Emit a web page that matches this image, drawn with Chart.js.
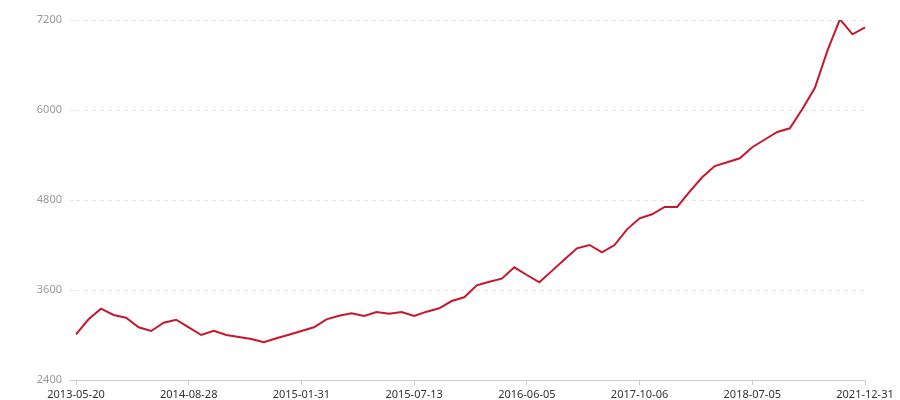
<!DOCTYPE html>
<html>
<head>
<meta charset="utf-8">
<script src="https://cdn.jsdelivr.net/npm/chart.js@4/dist/chart.umd.min.js"></script>
<style>
  html, body { margin: 0; padding: 0; background: #fff; }
  #wrap { width: 900px; height: 400px; }
</style>
</head>
<body>
<div id="wrap"><canvas id="c"></canvas></div>
<script>
const dates = [
  '2013-05-20','2013-07-10','2013-08-30','2013-10-18','2013-12-09','2014-01-28','2014-03-20','2014-05-12','2014-07-03',
  '2014-08-28','2014-09-15','2014-10-03','2014-10-20','2014-11-06','2014-11-23','2014-12-10','2014-12-27','2015-01-14',
  '2015-01-31','2015-02-18','2015-03-08','2015-03-26','2015-04-13','2015-05-01','2015-05-19','2015-06-06','2015-06-24',
  '2015-07-13','2015-08-18','2015-09-22','2015-10-28','2015-12-02','2016-01-06','2016-02-10','2016-03-17','2016-04-25',
  '2016-06-05','2016-08-08','2016-10-02','2016-11-26','2017-01-20','2017-03-16','2017-05-10','2017-07-03','2017-08-25',
  '2017-10-06','2017-11-06','2017-12-06','2018-01-06','2018-02-05','2018-03-07','2018-04-06','2018-05-06','2018-06-05',
  '2018-07-05','2018-12-09','2019-05-15','2019-10-20','2020-03-25','2020-08-29','2021-02-02','2021-06-08','2021-09-25',
  '2021-12-31'
];
const values = [
  3009, 3209, 3351, 3267, 3231, 3103, 3053, 3164, 3204,
  3102, 3000, 3057, 3000, 2973, 2947, 2903, 2956, 3004,
  3053, 3103, 3209, 3257, 3289, 3253, 3307, 3284, 3307,
  3253, 3311, 3356, 3453, 3503, 3663, 3711, 3751, 3903,
  3800, 3703, 3855, 4007, 4156, 4200, 4103, 4200, 4409,
  4556, 4609, 4707, 4707, 4911, 5103, 5253, 5303, 5356,
  5503, 5607, 5707, 5756, 6013, 6297, 6791, 7210, 7009,
  7103
];
const yTicks = [2400, 3600, 4800, 6000, 7200];
const labelEvery = 9;

const FONT = '"Noto Sans", "Open Sans", sans-serif';

new Chart(document.getElementById('c'), {
  type: 'line',
  data: {
    labels: dates,
    datasets: [{
      data: values,
      borderColor: '#c8172c',
      borderWidth: 2,
      pointRadius: 0,
      pointHoverRadius: 0,
      tension: 0,
      fill: false
    }]
  },
  options: {
    responsive: true,
    maintainAspectRatio: false,
    animation: false,
    layout: { padding: { left: 30, right: 35, top: 20, bottom: 0 } },
    plugins: { legend: { display: false }, tooltip: { enabled: false } },
    scales: {
      x: {
        type: 'category',
        offset: false,
        afterFit: (s) => { s.height = 20; },
        grid: {
          display: true,
          drawOnChartArea: false,
          drawTicks: true,
          tickLength: 5,
          tickColor: '#cccccc',
          tickWidth: 1
        },
        border: { display: true, color: '#cccccc', width: 1 },
        ticks: {
          autoSkip: false,
          maxRotation: 0,
          minRotation: 0,
          padding: 3,
          color: '#333333',
          font: { family: FONT, size: 11 },
          callback: function(v, i) { return (i % labelEvery === 0) ? dates[i] : null; }
        }
      },
      y: {
        min: yTicks[0],
        max: yTicks[yTicks.length - 1],
        afterFit: (s) => { s.width = 46; },
        afterBuildTicks: (s) => { s.ticks = yTicks.map(v => ({ value: v })); },
        grid: {
          color: (ctx) => ctx.index === 0 ? 'rgba(0,0,0,0)' : '#e6e6e6',
          lineWidth: 1,
          drawTicks: true,
          tickLength: 6,
          tickColor: (ctx) => ctx.index === 0 ? '#cccccc' : '#e6e6e6',
          tickBorderDash: (ctx) => ctx.index === 0 ? [] : [4, 4]
        },
        border: { display: false, dash: [4, 4] },
        ticks: {
          padding: 8,
          color: '#999999',
          font: { family: FONT, size: 11 },
          callback: (v) => String(v)
        }
      }
    }
  }
});
</script>
</body>
</html>
